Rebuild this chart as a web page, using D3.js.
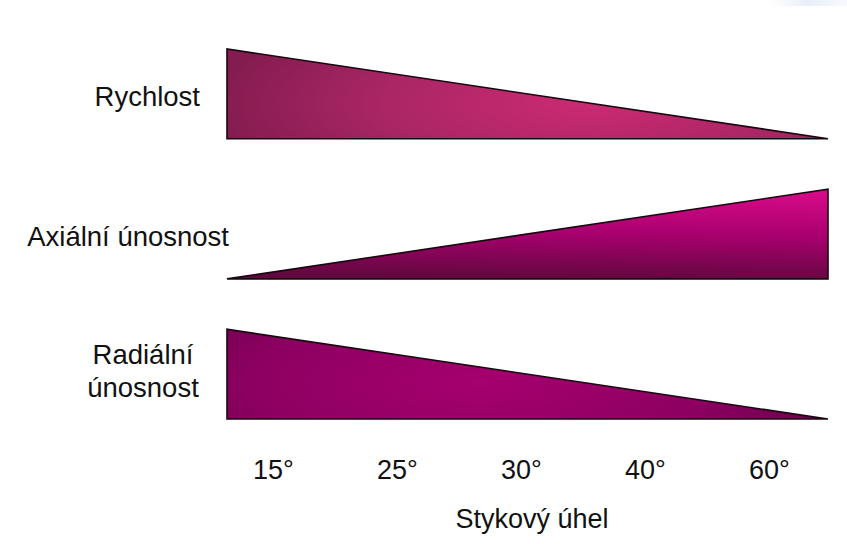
<!DOCTYPE html>
<html><head><meta charset="utf-8">
<script src="https://cdn.jsdelivr.net/npm/d3@7"></script>
<style>html,body{margin:0;padding:0;background:#fff;}svg{display:block;}</style>
</head><body>
<svg id="c" width="847" height="544"></svg>
<script>
// Data
const angles = ["15°", "25°", "30°", "40°", "60°"];
const seriesNames = ["Rychlost", "Axiální únosnost", "Radiální únosnost"];
const startValues = [1, 0, 1];   // relative value at smallest contact angle
const endValues   = [0, 1, 0];   // relative value at largest contact angle
const axisTitle = "Stykový úhel";

const svg = d3.select("#c");
const font = "'Liberation Sans', Arial, sans-serif";

// faint smudge at top right
const defs = svg.append("defs");
const sm = defs.append("linearGradient").attr("id","sm").attr("x1",0).attr("x2",1);
sm.append("stop").attr("offset",0).attr("stop-color","#eef2fa").attr("stop-opacity",0);
sm.append("stop").attr("offset",0.5).attr("stop-color","#e8eef8").attr("stop-opacity",1);
sm.append("stop").attr("offset",1).attr("stop-color","#f2f5fb").attr("stop-opacity",0.6);
svg.append("rect").attr("x",768).attr("y",0).attr("width",79).attr("height",6).attr("fill","url(#sm)");

const x = d3.scaleLinear().domain([0,1]).range([227, 828]);
const bands = d3.scaleBand().domain(seriesNames).range([49, 419]).paddingInner(0.36);
const h = bands.bandwidth();

// gradients
const g0 = defs.append("radialGradient").attr("id","gr0").attr("cx",0.6).attr("cy",0.6).attr("r",0.62)
  .attr("gradientTransform","translate(0.6,0.6) scale(1,2.0) translate(-0.6,-0.6)");
g0.append("stop").attr("offset",0).attr("stop-color","#cc2a72");
g0.append("stop").attr("offset",0.55).attr("stop-color","#aa2664");
g0.append("stop").attr("offset",1).attr("stop-color","#841c50");

const g1 = defs.append("linearGradient").attr("id","gr1").attr("x1",0.7).attr("y1",0).attr("x2",0.6).attr("y2",1);
g1.append("stop").attr("offset",0).attr("stop-color","#d80a88");
g1.append("stop").attr("offset",0.5).attr("stop-color","#a8006e");
g1.append("stop").attr("offset",1).attr("stop-color","#62083f");

const g2 = defs.append("radialGradient").attr("id","gr2").attr("cx",0.42).attr("cy",0.6).attr("r",0.62)
  .attr("gradientTransform","translate(0.42,0.6) scale(1,2.0) translate(-0.42,-0.6)");
g2.append("stop").attr("offset",0).attr("stop-color","#a6006e");
g2.append("stop").attr("offset",0.6).attr("stop-color","#8e0062");
g2.append("stop").attr("offset",1).attr("stop-color","#6a004a");

seriesNames.forEach((name, i) => {
  const top = bands(name), base = top + h;
  const y = d3.scaleLinear().domain([0,1]).range([base, top]);
  const pts = [[x(0), y(0)], [x(0), y(startValues[i])], [x(1), y(endValues[i])], [x(1), y(0)]];
  svg.append("path")
    .attr("d", d3.line()(pts) + "Z")
    .attr("fill", `url(#gr${i})`)
    .attr("stroke", "#1a0610").attr("stroke-width", 1.6).attr("stroke-linejoin","miter");
});

// row labels
const lab = svg.append("g").attr("font-family", font).attr("font-size", 27.5).attr("fill", "#111");
lab.append("text").attr("x", 200).attr("y", 106).attr("text-anchor","end").text(seriesNames[0]);
lab.append("text").attr("x", 229).attr("y", 246).attr("text-anchor","end").text(seriesNames[1]);
const parts = seriesNames[2].split(" ");
lab.append("text").attr("x", 143).attr("y", 364).attr("text-anchor","middle").text(parts[0]);
lab.append("text").attr("x", 143).attr("y", 397).attr("text-anchor","middle").text(parts[1]);

// angle axis
const xa = d3.scalePoint().domain(angles).range([271, 767]);
const ax = svg.append("g").attr("transform","translate(0,479)")
  .call(d3.axisBottom(xa).tickSize(0).tickPadding(0));
ax.select(".domain").remove();
ax.selectAll("text").attr("font-family", font).attr("font-size", 27).attr("fill","#111").attr("dy", 0).attr("dx", 2);

svg.append("text").attr("x", 532).attr("y", 528).attr("text-anchor","middle")
  .attr("font-family", font).attr("font-size", 27).attr("fill","#111").text(axisTitle);
</script>
</body></html>
